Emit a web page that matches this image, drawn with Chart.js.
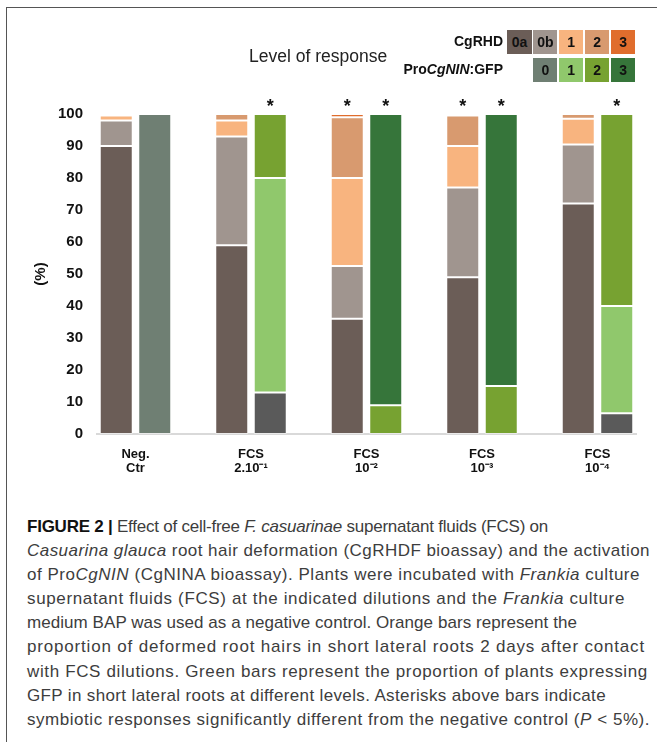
<!DOCTYPE html>
<html>
<head>
<meta charset="utf-8">
<script src="https://cdn.jsdelivr.net/npm/chart.js@4.4.1/dist/chart.umd.min.js"></script>
<style>
  html, body { margin: 0; padding: 0; background: #fff; }
  body { width: 657px; height: 742px; position: relative; overflow: hidden; font-family: "Liberation Sans", Arial, sans-serif; }
  #frame { position: absolute; left: 6px; top: 7px; width: 700px; height: 760px; border-top: 1.6px solid #555; border-left: 1.6px solid #555; }
  #chartBox { position: absolute; left: 0; top: 0; width: 657px; height: 500px; }
  .hdr { position: absolute; white-space: nowrap; color: #111; }
  .lvl { position: absolute; width: 24px; height: 24px; line-height: 24px; text-align: center; font-weight: bold; font-size: 14px; color: #111; }
  #caption { position: absolute; left: 27px; top: 515px; font-size: 17px; line-height: 24.1px; color: #3d3d3d; white-space: nowrap; }
  #caption .ln { display: inline-block; white-space: nowrap; }
  #caption b { color: #111; }
</style>
</head>
<body>
<div id="frame"></div>
<div id="chartBox"><canvas id="c" width="657" height="500"></canvas></div>
<div class="hdr" style="left:249px; top:46px; font-size:17.5px; color:#222;">Level of response</div>
<div class="hdr" id="rhdTitle" style="right:154px; top:33px; font-size:14px; font-weight:bold;">CgRHD</div>
<div class="hdr" id="gfpTitle" style="right:154px; top:61px; font-size:14px; font-weight:bold;">Pro<i>CgNIN</i>:GFP</div>
<div id="caption">
<span class="ln"><b>FIGURE 2 |</b> Effect of cell-free <i>F. casuarinae</i> supernatant fluids (FCS) on</span><br>
<span class="ln"><i>Casuarina glauca</i> root hair deformation (CgRHDF bioassay) and the activation</span><br>
<span class="ln">of Pro<i>CgNIN</i> (CgNINA bioassay). Plants were incubated with <i>Frankia</i> culture</span><br>
<span class="ln">supernatant fluids (FCS) at the indicated dilutions and the <i>Frankia</i> culture</span><br>
<span class="ln">medium BAP was used as a negative control. Orange bars represent the</span><br>
<span class="ln">proportion of deformed root hairs in short lateral roots 2 days after contact</span><br>
<span class="ln">with FCS dilutions. Green bars represent the proportion of plants expressing</span><br>
<span class="ln">GFP in short lateral roots at different levels. Asterisks above bars indicate</span><br>
<span class="ln">symbiotic responses significantly different from the negative control (<i>P</i> &lt; 5%).</span>
</div>
<script>
// ---- data ----
const categories = [['Neg.', 'Ctr'], ['FCS', '2.10\u207B\u00B9'], ['FCS', '10\u207B\u00B2'], ['FCS', '10\u207B\u00B3'], ['FCS', '10\u207B\u2074']];
const rhdLevels = ['0a', '0b', '1', '2', '3'];
const gfpLevels = ['0', '1', '2', '3'];
const rhd0a = [90, 59, 36, 49, 72];
const rhd0b = [8, 34, 16.5, 28, 18.5];
const rhd1  = [1.5, 5, 27.5, 13, 8];
const rhd2  = [0, 2, 19, 9.5, 1.5];
const rhd3  = [0.5, 0, 1, 0.5, 0];
const gfp0  = [100, 13, 0, 0, 6.5];
const gfp1  = [0, 67, 0, 0, 33.5];
const gfp2  = [0, 20, 9, 15, 60];
const gfp3  = [0, 0, 91, 85, 0];
const sigRHD = [false, false, true, true, false];
const sigGFP = [false, true, true, true, true];
const yTicks = [0, 10, 20, 30, 40, 50, 60, 70, 80, 90, 100];

// ---- styles ----
const rhdColors = ['#6b5d57', '#a0958f', '#f8b47f', '#d89a6f', '#e06d2d'];
const gfpColors = ['#5a5a5a', '#90c86c', '#77a231', '#36753a'];
const gfpCtrlColor = '#6f7f73';
const captionLineEnds = [548, 650, 640, 625, 577, 645, 648, 606, 650];

// ---- caption line fitting (layout only) ----
document.querySelectorAll('#caption .ln').forEach((el, i) => {
  const w = el.getBoundingClientRect().width;
  const target = captionLineEnds[i] - 27;
  const n = el.textContent.length;
  const ls = (target - w) / n;
  el.style.letterSpacing = ls.toFixed(3) + 'px';
});

// ---- build slot layout: [rhd, gfp, gap] per category ----
const nSlots = categories.length * 3 - 1;
const slotLabels = [];
for (let s = 0; s < nSlots; s++) slotLabels.push(s % 3 === 0 ? categories[s / 3] : '');
function toSlots(arr, off) {
  const out = new Array(nSlots).fill(null);
  arr.forEach((v, i) => { out[i * 3 + off] = v === 0 ? null : v; });
  return out;
}
const rhdSeries = [rhd0a, rhd0b, rhd1, rhd2, rhd3];
const gfpSeries = [gfp0, gfp1, gfp2, gfp3];
const datasets = [];
rhdSeries.forEach((arr, k) => datasets.push({
  label: 'CgRHD ' + rhdLevels[k], data: toSlots(arr, 0), backgroundColor: rhdColors[k]
}));
gfpSeries.forEach((arr, k) => {
  let bg = gfpColors[k];
  if (k === 0) { bg = new Array(nSlots).fill(gfpColors[0]); bg[1] = gfpCtrlColor; }
  datasets.push({ label: 'ProCgNIN:GFP ' + gfpLevels[k], data: toSlots(arr, 1), backgroundColor: bg });
});
datasets.forEach(d => { d.borderColor = 'rgba(255,255,255,0.45)'; d.borderWidth = 1; d.borderSkipped = false; });

// ---- legend boxes (HTML) ----
const boxW = 24.3, boxStep = 25.9, box0 = 507.3;
rhdLevels.forEach((l, k) => {
  const d = document.createElement('div'); d.className = 'lvl'; d.textContent = l;
  d.style.left = (box0 + k * boxStep) + 'px'; d.style.top = '30px'; d.style.width = boxW + 'px';
  d.style.background = rhdColors[k]; document.body.appendChild(d);
});
gfpLevels.forEach((l, k) => {
  const d = document.createElement('div'); d.className = 'lvl'; d.textContent = l;
  d.style.left = (box0 + (k + 1) * boxStep) + 'px'; d.style.top = '57.5px'; d.style.width = boxW + 'px';
  d.style.background = k === 0 ? gfpCtrlColor : gfpColors[k]; document.body.appendChild(d);
});

// ---- asterisks plugin ----
const starPlugin = {
  id: 'stars',
  afterDatasetsDraw(chart) {
    const ctx = chart.ctx, y = chart.scales.y.getPixelForValue(100);
    ctx.save();
    ctx.font = 'bold 18px "Liberation Sans", Arial, sans-serif';
    ctx.fillStyle = '#111'; ctx.textAlign = 'center'; ctx.textBaseline = 'alphabetic';
    const m0 = chart.getDatasetMeta(0), mG = chart.getDatasetMeta(rhdSeries.length);
    categories.forEach((c, i) => {
      if (sigRHD[i]) ctx.fillText('*', m0.data[i * 3].x, y - 2);
      if (sigGFP[i]) ctx.fillText('*', mG.data[i * 3 + 1].x, y - 2);
    });
    ctx.restore();
  }
};

new Chart(document.getElementById('c'), {
  type: 'bar',
  data: { labels: slotLabels, datasets },
  options: {
    responsive: false,
    animation: false,
    layout: { padding: { left: 0, right: 21, top: 114, bottom: 26 } },
    plugins: { legend: { display: false }, tooltip: { enabled: false } },
    datasets: { bar: { categoryPercentage: 1, barPercentage: 0.857 } },
    scales: {
      x: {
        stacked: true,
        grid: { display: false, drawTicks: false },
        border: { display: true, color: '#d9d9d9', width: 2 },
        ticks: {
          autoSkip: false, maxRotation: 0, minRotation: 0, padding: 14,
          labelOffset: 19.25,
          color: '#111', font: { family: '"Liberation Sans", Arial, sans-serif', size: 13, weight: 'bold', lineHeight: 1.05 }
        },
        afterFit(s) { s.height = 40; }
      },
      y: {
        stacked: true, min: 0, max: 100,
        afterBuildTicks(s) { s.ticks = yTicks.map(v => ({ value: v })); },
        grid: { display: false, drawTicks: false },
        border: { display: false },
        ticks: { padding: 14, color: '#111', font: { family: '"Liberation Sans", Arial, sans-serif', size: 15, weight: 'bold' } },
        title: { display: true, text: '(%)', color: '#111', padding: { top: 32, bottom: 0 }, font: { family: '"Liberation Sans", Arial, sans-serif', size: 15, weight: 'bold' } },
        afterFit(s) { s.width = 97; }
      }
    }
  },
  plugins: [starPlugin]
});
</script>
</body>
</html>
